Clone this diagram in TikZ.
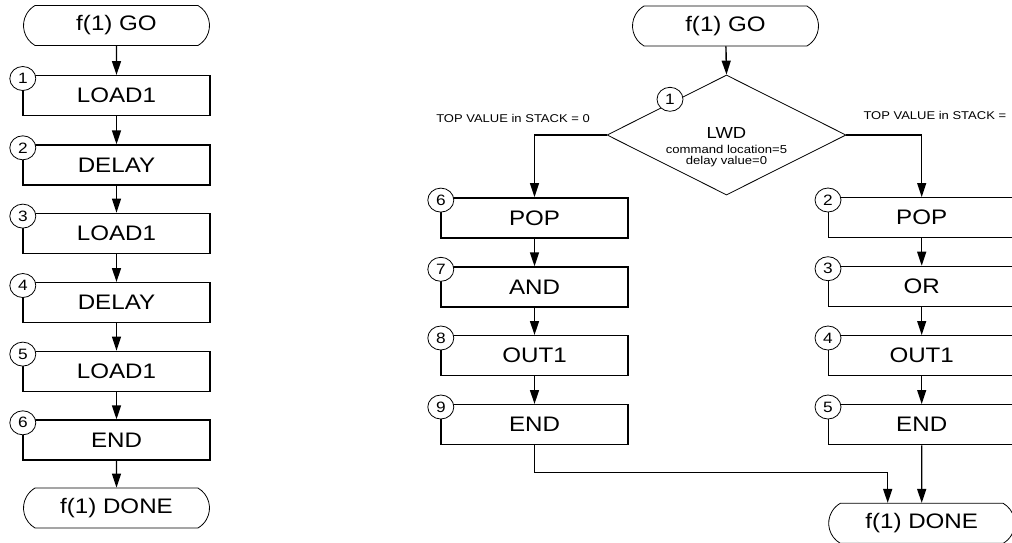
\documentclass[tikz,border=0pt]{standalone}
\usepackage{fontspec}
\setmainfont{Liberation Sans}[FakeStretch=1.15]
\usetikzlibrary{arrows.meta,shapes.misc,shapes.geometric}
\tikzset{
  stepbox/.style={draw, line width=1.4pt, minimum width=187pt, minimum height=40pt, inner sep=0pt, font=\fontsize{21}{23}\selectfont},
  term/.style={draw, line width=0.8pt, rounded rectangle, rounded rectangle arc length=120, minimum width=186pt, minimum height=40pt, inner sep=0pt, font=\fontsize{21}{23}\selectfont},
  num/.style={draw, fill=white, line width=0.8pt, ellipse, minimum width=26pt, minimum height=24pt, inner sep=0pt, font=\fontsize{15}{15}\selectfont},
  flow/.style={line width=1.4pt, -{Triangle[length=14pt,width=9pt]}},
  lbl/.style={font=\fontsize{11.3}{13}\selectfont, inner sep=0pt},
}
\begin{document}
\begin{tikzpicture}[x=1pt,y=-1pt]
\useasboundingbox (0,0) rectangle (1012,542);
\clip (0,0) rectangle (1012,542);
% ---------- left column ----------
\node[term] (go1) at (116.5,25.5) {f(1) GO};
\node[stepbox] (l1) at (116.5,95.7) {LOAD1};
\node[stepbox] (l2) at (116.5,165) {DELAY};
\node[stepbox] (l3) at (116.5,233.3) {LOAD1};
\node[stepbox] (l4) at (116.5,302.7) {DELAY};
\node[stepbox] (l5) at (116.5,371.3) {LOAD1};
\node[stepbox] (l6) at (116.5,440) {END};
\node[term] (done1) at (116.5,508) {f(1) DONE};
\foreach \i in {1,...,6}{\node[num] (n\i) at ([xshift=0.5pt,yshift=-3.5pt]l\i.north west) {\i};}
\draw[flow] (go1) -- (l1);
\draw[flow] (l1) -- (l2);
\draw[flow] (l2) -- (l3);
\draw[flow] (l3) -- (l4);
\draw[flow] (l4) -- (l5);
\draw[flow] (l5) -- (l6);
\draw[flow] (l6) -- (done1);
% ---------- right flow ----------
\node[term] (go2) at (725.5,26) {f(1) GO};
\node[draw, diamond, line width=0.8pt, minimum width=239pt, minimum height=120pt, inner sep=0pt] (d) at (726.5,135) {};
\node[align=center, inner sep=0pt, anchor=north] (dt) at (726.5,127) {{\fontsize{16}{18}\selectfont LWD}\\[3pt]{\fontsize{11.4}{12.4}\selectfont command location=5}\\[-0.5pt]{\fontsize{11.4}{12.4}\selectfont delay value=0}};
\node[num] (dn) at (670,99.3) {1};
\draw[flow] (go2) -- (d.north);

\node[lbl] (tl) at (513,118) {TOP VALUE in STACK = 0};
\node[lbl, anchor=west] (tr) at (863.3,115.5) {TOP VALUE in STACK =};

\node[stepbox] (a6) at (534.5,217.8) {POP};
\node[stepbox] (a7) at (534.5,287) {AND};
\node[stepbox] (a8) at (534.5,355.7) {OUT1};
\node[stepbox] (a9) at (534.5,424.7) {END};
\foreach \i in {6,...,9}{\node[num] (m\i) at ([xshift=0.5pt,yshift=-3pt]a\i.north west) {\i};}

\node[stepbox] (b2) at (921.7,217.7) {POP};
\node[stepbox] (b3) at (921.7,286.4) {OR};
\node[stepbox] (b4) at (921.7,355.7) {OUT1};
\node[stepbox] (b5) at (921.7,424.7) {END};
\foreach \i in {2,...,5}{\node[num] (k\i) at ([xshift=0.5pt,yshift=-3pt]b\i.north west) {\i};}

\node[term] (done2) at (921.7,523.3) {f(1) DONE};

\draw[flow] (d.west) -| (a6.north);
\draw[flow] (a6) -- (a7);
\draw[flow] (a7) -- (a8);
\draw[flow] (a8) -- (a9);
\draw[flow] (d.east) -| (b2.north);
\draw[flow] (b2) -- (b3);
\draw[flow] (b3) -- (b4);
\draw[flow] (b4) -- (b5);
\draw[flow] (b5) -- (done2);
\coordinate (j) at (887.7,472.7);
\draw[flow] (a9.south) |- (j) -- (j |- done2.north);
\end{tikzpicture}
\end{document}
